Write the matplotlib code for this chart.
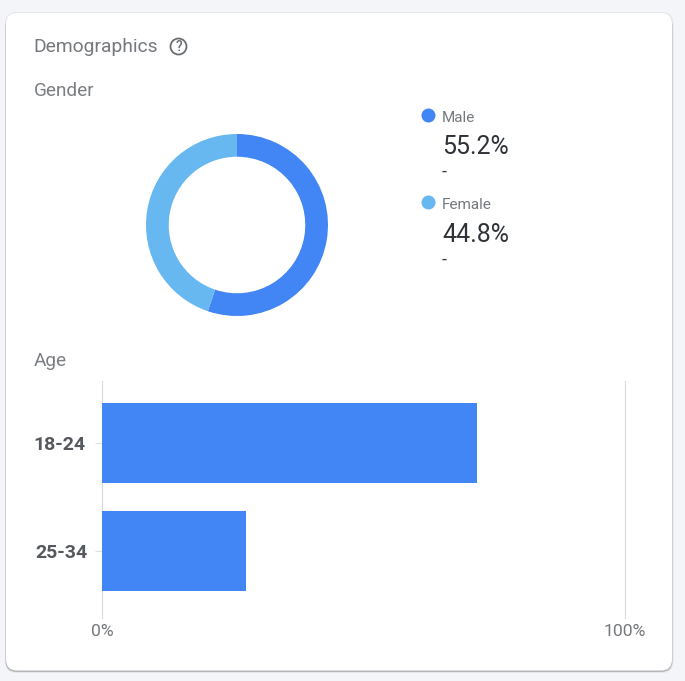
import matplotlib.pyplot as plt
from matplotlib.patches import FancyBboxPatch, Circle
from matplotlib.transforms import ScaledTranslation

plt.rcParams['font.family'] = ['Roboto', 'DejaVu Sans']

W = 685
H = 681

# datos
gender_labels = ['Male', 'Female']
gender_values = [55.2, 44.8]
gender_text = ['55.2%', '44.8%']
gender_colors = ['#4285f4', '#67b7f1']

age_labels = ['18-24', '25-34']
age_values = [71.7, 27.5]
age_ticks = [0, 100]
age_tick_labels = ['0%', '100%']


def px_axes(fig, left, top, right, bottom):
    # ejes a partir de pixeles de la imagen
    return fig.add_axes([left / W, 1 - bottom / H, (right - left) / W, (bottom - top) / H])


fig = plt.figure(figsize=(W / 100, H / 100), dpi=100, facecolor='#f4f5f8')

# fondo en pixeles para la tarjeta y los textos
bg = fig.add_axes([0, 0, 1, 1])
bg.set_xlim(0, W)
bg.set_ylim(H, 0)
bg.axis('off')

# sombra y tarjeta
bg.add_patch(FancyBboxPatch((5, 12), 668.5, 661, boxstyle='round,pad=0,rounding_size=12',
                            fc='#e6e7e9', ec='none'))
bg.add_patch(FancyBboxPatch((5.5, 15), 667, 657, boxstyle='round,pad=0,rounding_size=11',
                            fc='#b4b6b9', ec='none'))
bg.add_patch(FancyBboxPatch((6, 13), 666, 657.5, boxstyle='round,pad=0,rounding_size=11',
                            fc='white', ec='none'))

bg.text(33.2, 47.5, 'Demographics', fontsize=13.9, color='#75787c', va='center')
bg.add_patch(Circle((178.5, 46.5), 8, fc='none', ec='#6a6e72', lw=1.3))
bg.text(178.5, 47, '?', fontsize=10, color='#6a6e72', ha='center', va='center', fontweight='medium')
bg.text(34, 91, 'Gender', fontsize=13.7, color='#7b7e82', va='center')
bg.text(34, 361, 'Age', fontsize=13.7, color='#7b7e82', va='center')

# leyenda del genero
legend_y = [116, 203]
for i in range(len(gender_labels)):
    y = legend_y[i]
    bg.add_patch(Circle((428.5, y - 0.5), 7, fc=gender_colors[i], ec='none'))
    bg.text(442, y + 2, gender_labels[i], fontsize=11, color='#75787c', va='center')
    bg.text(442, y + 30.5 + i * 1.5, gender_text[i], fontsize=18, color='#2f3236', va='center')
    bg.text(442, y + 55.5 + i * 1.5, '-', fontsize=13, color='#3c4043', va='center')

# dona
ax_pie = px_axes(fig, 146, 134, 328, 316)
ax_pie.pie(gender_values, colors=gender_colors, startangle=90, counterclock=False, radius=1.0,
           wedgeprops={'width': 0.25, 'edgecolor': 'none'})
ax_pie.set_xlim(-1, 1)
ax_pie.set_ylim(-1, 1)

# barras de edad
ax_bar = px_axes(fig, 102, 381, 625, 618)
ax_bar.patch.set_alpha(0)
y_pos = range(len(age_labels))
ax_bar.barh(y_pos, age_values, height=0.74, color='#4285f4', zorder=3)
ax_bar.set_xlim(0, 100)
ax_bar.set_ylim(1 + 67 / 108, -62 / 108)
ax_bar.set_xticks(age_ticks)
ax_bar.set_xticklabels(age_tick_labels, fontsize=12.6, color='#75787c')
ax_bar.set_yticks(list(y_pos))
ax_bar.set_yticklabels(age_labels, fontsize=14, color='#55585c', fontweight='bold')
ax_bar.tick_params(axis='x', length=0, pad=4)
ax_bar.tick_params(axis='y', length=5, width=0.8, color='#e0e0e0', pad=7)
# la segunda etiqueta esta un poco mas a la derecha en la original
lbl = ax_bar.get_yticklabels()[1]
lbl.set_transform(lbl.get_transform() + ScaledTranslation(2 / 100, 0, fig.dpi_scale_trans))
for s in ['top', 'bottom']:
    ax_bar.spines[s].set_visible(False)
for s in ['left', 'right']:
    ax_bar.spines[s].set_color('#d8d9da')
    ax_bar.spines[s].set_linewidth(0.8)

fig.savefig('out.png', dpi=100, facecolor=fig.get_facecolor())
